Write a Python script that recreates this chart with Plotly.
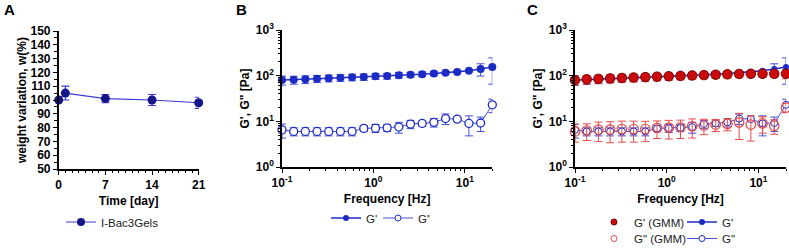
import plotly.graph_objects as go

# ---------------- data ----------------
# Panel A
days = [0, 1, 7, 14, 21]
weight = [100, 105, 101, 100, 98]
weight_err = [0, 5, 3, 4, 4]

# Panels B / C (frequency sweep)
freq = [0.1, 0.1342, 0.1801, 0.2417, 0.3245, 0.4356, 0.5846, 0.7847, 1.054, 1.414,
        1.898, 2.548, 3.420, 4.590, 6.161, 8.270, 11.10, 14.90, 20.0]
g1 = [80, 81, 83, 86, 88, 90, 92, 94, 97, 98, 102, 105, 108, 112, 116, 121, 128, 140, 155]
g1_err = [18, 16, 16, 15, 15, 15, 15, 15, 14, 14, 14, 13, 12, 12, 6, 5, 6, 42, 90]
g2 = [6.5, 6.0, 6.0, 6.0, 6.0, 6.0, 6.0, 7.0, 7.1, 7.2, 7.5, 8.7, 9.0, 9.5, 11.5, 11.2, 9.0, 9.2, 23]
g2_err = [2.2, 1.2, 1.2, 1.2, 1.2, 1.2, 1.2, 1.0, 1.4, 1.2, 2.0, 1.8, 1.2, 2.0, 3.0, 0.5, 4.2, 3.2, 7.5]
g1_gmm = [80, 83, 85, 87, 89, 91, 93, 95, 97, 99, 101, 103, 105, 107, 109, 110, 110, 110, 110]
g1_gmm_err = [18, 18, 18, 18, 18, 18, 18, 18, 18, 18, 18, 18, 18, 18, 18, 18, 18, 18, 25]
g2_gmm = [6.0, 6.3, 6.6, 6.6, 6.8, 6.8, 6.8, 7.2, 7.3, 7.4, 7.8, 8.1, 8.5, 8.8, 9.5, 8.5, 9.0, 8.0, 20.0]
g2_gmm_err = [2.5, 2.5, 3.0, 3.2, 3.3, 3.3, 3.2, 3.0, 3.2, 3.2, 3.5, 3.0, 2.5, 2.6, 5.5, 4.8, 3.5, 2.8, 4.5]

x_ticks_a = [0, 7, 14, 21]
log_x_ticks = [0.1, 1, 10]
log_x_text = ["10<sup>-1</sup>", "10<sup>0</sup>", "10<sup>1</sup>"]
log_y_ticks = [1, 10, 100, 1000]
log_y_text = ["10<sup>0</sup>", "10<sup>1</sup>", "10<sup>2</sup>", "10<sup>3</sup>"]

# ---------------- style ----------------
W, H = 789, 249
FONT = "Liberation Sans, Arial, sans-serif"
NAVY = "#15158a"
NAVY_LINE = "#3a3ad0"
BLUE = "#1c2bc4"
BLUE_L = "#4450d6"
RED = "#cc0a0a"
RED_EDGE = "#7a0000"
RED_O = "#e84a4a"


def px_x(p):
    return p / W


def px_y(p):
    return 1 - p / H


fig = go.Figure()

# ---- Panel A ----
fig.add_trace(go.Scatter(
    x=days, y=weight, mode="lines+markers", xaxis="x", yaxis="y",
    line=dict(color=NAVY_LINE, width=1.2),
    marker=dict(color=NAVY, size=9, line=dict(color=NAVY, width=0)),
    error_y=dict(type="data", array=weight_err, color=NAVY_LINE, thickness=1.2, width=4),
    cliponaxis=False, showlegend=False))
fig.add_trace(go.Scatter(
    x=[None], y=[None], mode="lines+markers", name="I-Bac3Gels", legend="legend",
    line=dict(color=NAVY_LINE, width=1.2), marker=dict(color=NAVY, size=8)))

# ---- Panel B ----
fig.add_trace(go.Scatter(
    x=freq, y=g1, mode="lines+markers", xaxis="x2", yaxis="y2",
    line=dict(color=BLUE, width=1.5),
    marker=dict(color=BLUE, size=8),
    error_y=dict(type="data", array=g1_err, color=BLUE_L, thickness=1, width=4),
    cliponaxis=False, showlegend=False))
fig.add_trace(go.Scatter(
    x=freq, y=g2, mode="lines+markers", xaxis="x2", yaxis="y2",
    line=dict(color=BLUE_L, width=1),
    marker=dict(color="white", size=8, line=dict(color=BLUE, width=1.3)),
    error_y=dict(type="data", array=g2_err, color=BLUE_L, thickness=1, width=4),
    cliponaxis=False, showlegend=False))
fig.add_trace(go.Scatter(
    x=[None], y=[None], mode="lines+markers", name="G'", legend="legend2",
    line=dict(color=BLUE, width=1.5), marker=dict(color=BLUE, size=6)))
fig.add_trace(go.Scatter(
    x=[None], y=[None], mode="lines+markers", name='G"', legend="legend2",
    line=dict(color=BLUE_L, width=1),
    marker=dict(color="white", size=6, line=dict(color=BLUE, width=1))))

# ---- Panel C ----
fig.add_trace(go.Scatter(
    x=freq, y=g1, mode="lines+markers", xaxis="x3", yaxis="y3",
    line=dict(color=BLUE, width=1.5),
    marker=dict(color=BLUE, size=6),
    error_y=dict(type="data", array=g1_err, color=BLUE_L, thickness=1, width=4),
    cliponaxis=False, showlegend=False))
fig.add_trace(go.Scatter(
    x=freq, y=g2, mode="lines+markers", xaxis="x3", yaxis="y3",
    line=dict(color=BLUE_L, width=1),
    marker=dict(color="white", size=7, line=dict(color=BLUE, width=1)),
    error_y=dict(type="data", array=g2_err, color=BLUE_L, thickness=1, width=4),
    cliponaxis=False, showlegend=False))
fig.add_trace(go.Scatter(
    x=freq, y=g1_gmm, mode="markers", xaxis="x3", yaxis="y3",
    marker=dict(color=RED, size=9.5, line=dict(color=RED_EDGE, width=1)),
    error_y=dict(type="data", array=g1_gmm_err, color=RED_O, thickness=1, width=4),
    cliponaxis=False, showlegend=False))
fig.add_trace(go.Scatter(
    x=freq, y=g2_gmm, mode="markers", xaxis="x3", yaxis="y3",
    marker=dict(color="rgba(255,255,255,0)", size=9.5, line=dict(color=RED_O, width=1.2)),
    error_y=dict(type="data", array=g2_gmm_err, color=RED_O, thickness=1, width=4),
    cliponaxis=False, showlegend=False))
# legend entries C (row 1 / row 2)
fig.add_trace(go.Scatter(
    x=[None], y=[None], mode="markers", name="G' (GMM)", legend="legend3",
    marker=dict(color=RED, size=6, line=dict(color=RED_EDGE, width=1))))
fig.add_trace(go.Scatter(
    x=[None], y=[None], mode="lines+markers", name="G'", legend="legend3",
    line=dict(color=BLUE, width=1.5), marker=dict(color=BLUE, size=6)))
fig.add_trace(go.Scatter(
    x=[None], y=[None], mode="markers", name='G" (GMM)', legend="legend4",
    marker=dict(color="white", size=6, line=dict(color=RED_O, width=1))))
fig.add_trace(go.Scatter(
    x=[None], y=[None], mode="lines+markers", name='G"', legend="legend4",
    line=dict(color=BLUE_L, width=1),
    marker=dict(color="white", size=6, line=dict(color=BLUE, width=1))))

# ---------------- axes ----------------
tickfont = dict(family=FONT, size=12, color="black", weight="bold")
titlefont = dict(family=FONT, size=12, color="black", weight="bold")
axis_common = dict(showline=True, linecolor="black", linewidth=1.6, ticks="outside",
                   ticklen=4, tickwidth=1.4, tickcolor="black", showgrid=False,
                   zeroline=False, tickfont=tickfont, automargin=False)

dom_y_a = [px_y(169), px_y(31)]
dom_y_bc = [px_y(167), px_y(30)]

minor_x_log = [0.2, 0.3, 0.4, 0.5, 0.6, 0.7, 0.8, 0.9, 2, 3, 4, 5, 6, 7, 8, 9, 20]
minor_y_log = [2, 3, 4, 5, 6, 7, 8, 9, 20, 30, 40, 50, 60, 70, 80, 90,
               200, 300, 400, 500, 600, 700, 800, 900]
minor_style = dict(ticks="outside", ticklen=2.5, tickwidth=1.2, tickcolor="black", showgrid=False)

fig.update_layout(
    xaxis=dict(domain=[px_x(58.7), px_x(198.7)], anchor="y", range=[0, 21],
               tickmode="array", tickvals=x_ticks_a,
               minor=dict(dtick=1, **minor_style),
               title=dict(text="Time [day]", font=titlefont, standoff=5), **axis_common),
    yaxis=dict(domain=dom_y_a, anchor="x", range=[50, 150], dtick=10,
               minor=dict(dtick=5, **minor_style),
               title=dict(text="weight variation, w(%)", font=titlefont, standoff=1),
               **axis_common),
    xaxis2=dict(domain=[px_x(282), px_x(492.3)], anchor="y2", type="log",
                range=[-1, 1.30103], tickmode="array", tickvals=log_x_ticks, ticktext=log_x_text,
                minor=dict(tickvals=minor_x_log, **minor_style),
                title=dict(text="Frequency [Hz]", font=titlefont, standoff=5), **axis_common),
    yaxis2=dict(domain=dom_y_bc, anchor="x2", type="log", range=[0, 3],
                tickmode="array", tickvals=log_y_ticks, ticktext=log_y_text,
                minor=dict(tickvals=minor_y_log, **minor_style),
                title=dict(text='G\', G" [Pa]', font=titlefont, standoff=4), **axis_common),
    xaxis3=dict(domain=[px_x(575), px_x(786)], anchor="y3", type="log",
                range=[-1, 1.30103], tickmode="array", tickvals=log_x_ticks, ticktext=log_x_text,
                minor=dict(tickvals=minor_x_log, **minor_style),
                title=dict(text="Frequency [Hz]", font=titlefont, standoff=5), **axis_common),
    yaxis3=dict(domain=dom_y_bc, anchor="x3", type="log", range=[0, 3],
                tickmode="array", tickvals=log_y_ticks, ticktext=log_y_text,
                minor=dict(tickvals=minor_y_log, **minor_style),
                title=dict(text='G\', G" [Pa]', font=titlefont, standoff=4), **axis_common),
)

legfont = dict(family=FONT, size=11.5, color="#222")
leg_common = dict(orientation="h", bgcolor="rgba(0,0,0,0)", font=legfont,
                  xanchor="left", yanchor="middle", itemclick=False)
fig.update_layout(
    legend=dict(x=px_x(61), y=px_y(222), **leg_common),
    legend2=dict(x=px_x(326), y=px_y(218), entrywidth=7, **leg_common),
    legend3=dict(x=px_x(594), y=px_y(222), entrywidth=43, **leg_common),
    legend4=dict(x=px_x(594), y=px_y(238.5), entrywidth=43, **leg_common),
)

# panel letters
for txt, xp in [("A", 9), ("B", 242), ("C", 532)]:
    fig.add_annotation(text=f"<b>{txt}</b>", x=px_x(xp), y=px_y(9), xref="paper", yref="paper",
                       showarrow=False, xanchor="center", yanchor="middle",
                       font=dict(family=FONT, size=15, color="black"))

fig.update_layout(width=W, height=H, margin=dict(l=0, r=0, t=0, b=0, autoexpand=False),
                  paper_bgcolor="white", plot_bgcolor="white",
                  font=dict(family=FONT, color="black"))

fig.write_html("out.html", config={"displayModeBar": False},
               post_script="document.body.style.margin='0';document.body.style.overflow='hidden';")
